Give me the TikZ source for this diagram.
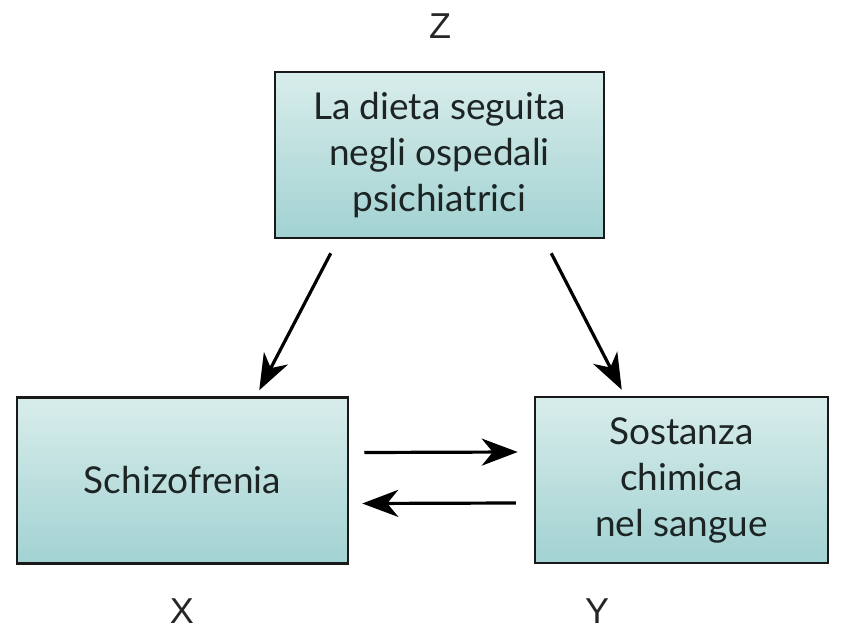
\documentclass[tikz,border=0pt]{standalone}
\usepackage{fontspec}
\setmainfont{Lato}
\newfontfamily\labelfont{Liberation Sans}
\usepackage{tikz}
\usetikzlibrary{arrows.meta, positioning, calc}
\definecolor{boxtop}{RGB}{216, 237, 235}
\definecolor{boxbottom}{RGB}{162, 210, 210}
\definecolor{boxtext}{RGB}{28, 36, 36}

\begin{document}
\begin{tikzpicture}[x=1pt, y=-1pt]
\tikzstyle{factor} = [rectangle, draw=black!90, line width=2.5pt, top color=boxtop, bottom color=boxbottom, text=boxtext, align=center, minimum height=166pt, font=\fontsize{37}{46}\selectfont]
\tikzstyle{letter} = [font=\labelfont\fontsize{36}{40}\selectfont, text=black!85, inner sep=1pt]
\tikzstyle{arrow} = [line width=3.2pt, -{Stealth[length=36pt, width=27pt, inset=11pt]}]

\useasboundingbox (0,0) rectangle (846,631);

\node (z) [factor, minimum width=329pt] at (439.5,155) {La dieta seguita\\negli ospedali\\psichiatrici};
\node (x) [factor, minimum width=331pt] at (182.5,480.5) {Schizofrenia};
\node (y) [factor, minimum width=293pt] at (681.5,480) {Sostanza\\chimica\\nel sangue};

\node (zlab) [letter] at (440,26) {Z};
\node (xlab) [letter] at (182,611) {X};
\node (ylab) [letter] at (597,611) {Y};

% causal links from the common cause
\draw [arrow] ($(z.south west)+(57,14)$) -- ($(x.north east)+(-90,-6)$);
\draw [arrow] ($(z.south east)+(-54,14)$) -- ($(y.north west)+(88,-6)$);

% the two directions between X and Y
\draw [arrow] ($(x.east)+(15,-28)$) -- ($(y.west)+(-16,-28)$);
\draw [arrow] ($(y.west)+(-18,23)$) -- ($(x.east)+(13,23)$);
\end{tikzpicture}
\end{document}
